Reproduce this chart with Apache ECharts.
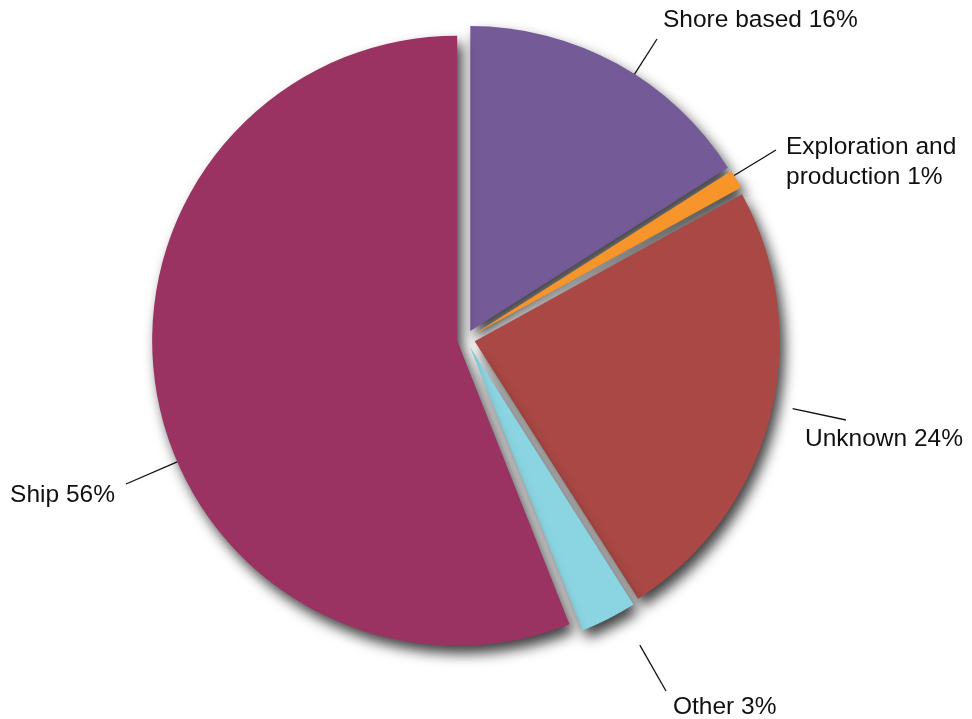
<!DOCTYPE html>
<html>
<head>
<meta charset="utf-8">
<script src="https://cdn.jsdelivr.net/npm/echarts@6/dist/echarts.min.js"></script>
<style>
  html, body { margin: 0; padding: 0; background: #ffffff; }
  #chart { width: 972px; height: 719px; }
</style>
</head>
<body>
<div id="chart"></div>
<script>
// ---- data ----
const categories = ['Shore based', 'Exploration and\nproduction', 'Unknown', 'Other', 'Ship'];
const values = [16, 1, 24, 3, 56];
const colors = ['#745A97', '#F7952A', '#A94844', '#8BD5E2', '#9A3362'];

// ---- layout / style ----
const CX = 466, CY = 339, R = 305, OFFSET = 9;
const labelPlacement = [
  { x: 663, y: 20,  align: 'left',  end: [657, 39],  gap: 0 },
  { x: 786, y: 162, align: 'left',  end: [776, 150], gap: 0 },
  { x: 805, y: 439, align: 'left',  end: [846, 420], gap: 20 },
  { x: 673, y: 707, align: 'left',  end: [666, 691], gap: 38 },
  { x: 115, y: 495, align: 'right', end: [126, 484], gap: 0 }
];

const total = values.reduce((a, b) => a + b, 0);
function midAngle(i) {
  let s = 0;
  for (let k = 0; k < i; k++) s += values[k];
  return (s + values[i] / 2) / total * 2 * Math.PI;
}
function vertex(i) {
  const a = midAngle(i);
  return [CX + OFFSET * Math.sin(a), CY - OFFSET * Math.cos(a)];
}

const sliceData = categories.map((name, i) => ({
  name: name,
  value: values[i],
  selected: true,
  itemStyle: { color: colors[i] }
}));
const labelData = categories.map((name, i) => ({ name: name, value: values[i] }));

const chart = echarts.init(document.getElementById('chart'), null, { renderer: 'canvas' });
chart.setOption({
  backgroundColor: '#ffffff',
  animation: false,
  series: [{
    // the slices (all pulled slightly apart)
    type: 'pie',
    center: [CX, CY],
    radius: [0, R],
    startAngle: 90,
    clockwise: true,
    selectedMode: 'multiple',
    selectedOffset: OFFSET,
    silent: true,
    data: sliceData,
    itemStyle: {
      borderWidth: 0,
      shadowBlur: 13,
      shadowOffsetX: 5,
      shadowOffsetY: 8,
      shadowColor: 'rgba(0,0,0,0.75)'
    },
    label: { show: false },
    labelLine: { show: false }
  }, {
    // the labels and their leader lines
    type: 'pie',
    center: [CX, CY],
    radius: [0, R],
    startAngle: 90,
    clockwise: true,
    selectedMode: false,
    avoidLabelOverlap: false,
    silent: true,
    z: 3,
    data: labelData,
    itemStyle: { color: 'rgba(0,0,0,0)', borderWidth: 0 },
    label: {
      show: true,
      position: 'outside',
      formatter: '{b} {c}%',
      fontFamily: 'Liberation Sans, Arial, sans-serif',
      fontSize: 24.5,
      lineHeight: 30,
      color: '#111111'
    },
    labelLine: {
      show: true,
      length: 20,
      length2: 0,
      lineStyle: { color: '#111111', width: 1.3 }
    },
    labelLayout: function (params) {
      const i = params.dataIndex;
      const p = labelPlacement[i];
      const v = vertex(i);
      const ex = p.end[0], ey = p.end[1];
      const dx = ex - v[0], dy = ey - v[1];
      const len = Math.sqrt(dx * dx + dy * dy);
      const rr = R + p.gap;
      const sx = v[0] + dx / len * rr, sy = v[1] + dy / len * rr;
      return {
        x: p.x,
        y: p.y,
        align: p.align,
        verticalAlign: 'middle',
        labelLinePoints: [[sx, sy], [ex, ey]]
      };
    }
  }]
});
</script>
</body>
</html>
